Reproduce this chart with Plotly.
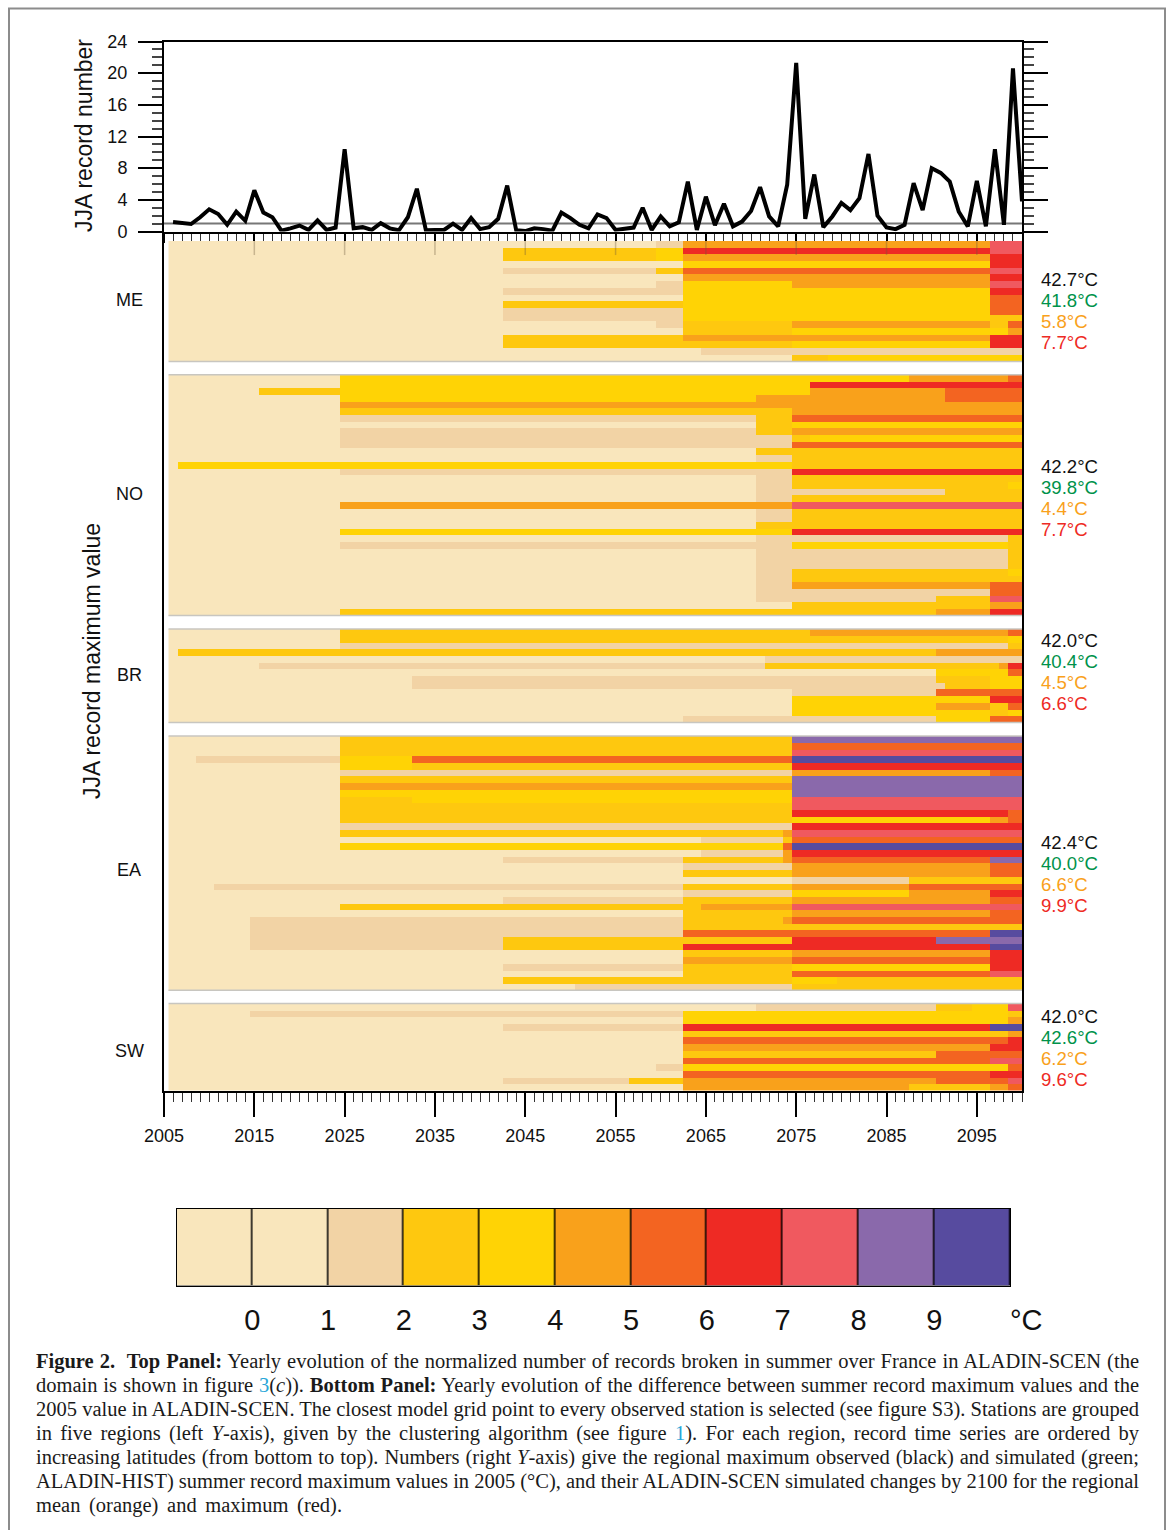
import plotly.graph_objects as go

W, H = 1171, 1530

# ---------- top panel ----------
YEARS = list(range(2006, 2101))
RECORD_NUMBER = [
    1.2, 1.05, 0.95, 1.8, 2.8, 2.2, 0.85, 2.5, 1.35, 5.2,
    2.4, 1.8, 0.1, 0.4, 0.75, 0.2, 1.4, 0.2, 0.5, 10.4,
    0.4, 0.55, 0.2, 1.05, 0.4, 0.15, 1.8, 5.4, 0.15, 0.2,
    0.2, 1.0, 0.2, 1.7, 0.3, 0.55, 1.6, 5.8, 0.15, 0.05,
    0.4, 0.3, 0.1, 2.4, 1.7, 0.85, 0.4, 2.15, 1.7, 0.2,
    0.4, 0.5, 3.0, 0.2, 1.9, 0.65, 1.15, 6.3, 0.2, 4.4,
    0.8, 3.5, 0.65, 1.25, 2.6, 5.6, 1.9, 0.65, 5.9, 21.3,
    1.6, 7.2, 0.55, 1.9, 3.6, 2.7, 4.2, 9.8, 2.0, 0.5,
    0.3, 0.85, 6.1, 2.7, 8.0, 7.4, 6.3, 2.5, 0.65, 6.4,
    0.65, 10.4, 0.85, 20.6, 3.8,
]
REFERENCE_LEVEL = [1, 1]
Y_TICKS = [0, 4, 8, 12, 16, 20, 24]

# ---------- colour classes ----------
COLORS = ["#F9E6BC", "#F9E6BC", "#F2D3A5", "#FEC80F", "#FFD305", "#F9A11B",
          "#F36421", "#EE2A24", "#F0595F", "#8A69AB", "#574B9F"]
LEGEND_LEVELS = list(range(11))
LEGEND_TICKS = list(range(10))

# ---------- rows, top to bottom: (first year, colour class) runs ----------
ME_ROWS = [
    [(2006, 1), (2060, 2), (2063, 5), (2097, 8)],
    [(2006, 1), (2043, 3), (2060, 4), (2063, 7), (2097, 8)],
    [(2006, 1), (2043, 3), (2060, 4), (2063, 5), (2097, 7)],
    [(2006, 1), (2063, 4), (2097, 7)],
    [(2006, 1), (2043, 2), (2060, 3), (2063, 6), (2097, 8)],
    [(2006, 1), (2063, 5), (2097, 7)],
    [(2006, 1), (2060, 2), (2063, 4), (2075, 5), (2097, 8)],
    [(2006, 1), (2043, 2), (2063, 4), (2097, 7)],
    [(2006, 1), (2063, 4), (2097, 6)],
    [(2006, 1), (2043, 3), (2063, 4), (2097, 6)],
    [(2006, 1), (2043, 2), (2063, 4), (2097, 6)],
    [(2006, 1), (2043, 2), (2063, 4), (2097, 3)],
    [(2006, 1), (2060, 2), (2063, 3), (2075, 5), (2097, 3), (2099, 6)],
    [(2006, 1), (2063, 3), (2075, 4), (2099, 5)],
    [(2006, 1), (2043, 3), (2063, 5), (2097, 7)],
    [(2006, 1), (2043, 3), (2075, 4), (2097, 7)],
    [(2006, 1), (2065, 2)],
    [(2006, 1), (2075, 3), (2079, 4)],
]
NO_ROWS = [
    [(2006, 1), (2025, 4), (2088, 5), (2099, 6)],
    [(2006, 1), (2025, 4), (2077, 7)],
    [(2006, 1), (2016, 3), (2025, 4), (2077, 5), (2092, 6)],
    [(2006, 1), (2025, 4), (2071, 5), (2092, 6)],
    [(2006, 1), (2025, 5)],
    [(2006, 1), (2025, 3), (2075, 5)],
    [(2006, 1), (2025, 2), (2071, 3), (2075, 6)],
    [(2006, 1), (2071, 3), (2075, 4)],
    [(2006, 1), (2025, 2), (2071, 3), (2075, 5)],
    [(2006, 1), (2025, 2), (2075, 3), (2077, 4)],
    [(2006, 1), (2025, 2), (2075, 6)],
    [(2006, 1), (2071, 3)],
    [(2006, 1), (2071, 2), (2075, 3)],
    [(2006, 1), (2007, 4), (2075, 3)],
    [(2006, 1), (2025, 2), (2075, 7)],
    [(2006, 1), (2071, 2), (2075, 3)],
    [(2006, 1), (2071, 2), (2075, 3), (2099, 4)],
    [(2006, 1), (2071, 2), (2092, 3)],
    [(2006, 1), (2071, 2), (2075, 3)],
    [(2006, 1), (2025, 5), (2075, 8)],
    [(2006, 1), (2071, 2), (2075, 3)],
    [(2006, 1), (2071, 2), (2075, 3)],
    [(2006, 1), (2071, 3)],
    [(2006, 1), (2025, 4), (2075, 7)],
    [(2006, 1), (2071, 2), (2099, 3)],
    [(2006, 1), (2025, 2), (2075, 4), (2099, 3)],
    [(2006, 1), (2071, 2), (2099, 3)],
    [(2006, 1), (2071, 2), (2099, 3)],
    [(2006, 1), (2071, 2), (2099, 3)],
    [(2006, 1), (2071, 2), (2075, 3), (2099, 4)],
    [(2006, 1), (2071, 2), (2075, 3)],
    [(2006, 1), (2071, 2), (2075, 5), (2097, 6)],
    [(2006, 1), (2071, 2), (2097, 6)],
    [(2006, 1), (2071, 2), (2091, 3), (2097, 8)],
    [(2006, 1), (2075, 3), (2097, 5)],
    [(2006, 1), (2025, 3), (2091, 5), (2097, 7)],
]
BR_ROWS = [
    [(2006, 1), (2025, 3), (2077, 5), (2099, 6)],
    [(2006, 1), (2025, 3), (2099, 4)],
    [(2006, 1), (2025, 2), (2099, 3)],
    [(2006, 1), (2007, 3), (2091, 5)],
    [(2006, 1), (2072, 2)],
    [(2006, 1), (2016, 2), (2072, 3), (2098, 5), (2099, 7)],
    [(2006, 1), (2091, 4), (2099, 6)],
    [(2006, 1), (2033, 2), (2091, 3), (2097, 4)],
    [(2006, 1), (2033, 2), (2092, 3), (2097, 4)],
    [(2006, 1), (2075, 2), (2091, 6)],
    [(2006, 1), (2075, 4), (2097, 7)],
    [(2006, 1), (2075, 4), (2091, 5), (2097, 3), (2099, 6)],
    [(2006, 1), (2075, 4), (2097, 3), (2099, 4)],
    [(2006, 1), (2063, 2), (2091, 4), (2097, 6)],
]
EA_ROWS = [
    [(2006, 1), (2025, 3), (2075, 9)],
    [(2006, 1), (2025, 3), (2075, 6)],
    [(2006, 1), (2025, 3), (2075, 8)],
    [(2006, 1), (2009, 2), (2025, 4), (2033, 6), (2075, 10)],
    [(2006, 1), (2025, 4), (2033, 3), (2075, 7)],
    [(2006, 1), (2025, 2), (2075, 5), (2097, 6)],
    [(2006, 1), (2025, 3), (2075, 9)],
    [(2006, 1), (2025, 5), (2075, 9)],
    [(2006, 1), (2025, 4), (2075, 9)],
    [(2006, 1), (2025, 3), (2033, 4), (2075, 8)],
    [(2006, 1), (2025, 3), (2075, 8)],
    [(2006, 1), (2025, 3), (2075, 7), (2099, 6)],
    [(2006, 1), (2025, 3), (2075, 4), (2097, 5), (2099, 6)],
    [(2006, 1), (2025, 2), (2075, 7)],
    [(2006, 1), (2025, 3), (2074, 5), (2075, 8)],
    [(2006, 1), (2065, 2), (2074, 3), (2075, 6)],
    [(2006, 1), (2025, 4), (2074, 6), (2075, 10)],
    [(2006, 1), (2065, 2), (2074, 5), (2075, 7)],
    [(2006, 1), (2043, 2), (2063, 3), (2074, 5), (2075, 6), (2097, 9)],
    [(2006, 1), (2063, 2), (2075, 5), (2097, 6)],
    [(2006, 1), (2063, 3), (2075, 5), (2097, 6)],
    [(2006, 1), (2075, 2), (2088, 3)],
    [(2006, 1), (2011, 2), (2063, 3), (2075, 5), (2088, 6)],
    [(2006, 1), (2063, 2), (2075, 4), (2088, 5), (2097, 7)],
    [(2006, 1), (2043, 2), (2063, 3), (2075, 5), (2097, 6)],
    [(2006, 1), (2025, 3), (2065, 5), (2075, 8)],
    [(2006, 1), (2063, 3), (2075, 5), (2097, 6)],
    [(2006, 1), (2015, 2), (2063, 3), (2074, 5), (2075, 6)],
    [(2006, 1), (2015, 2), (2063, 3)],
    [(2006, 1), (2015, 2), (2063, 6), (2097, 10)],
    [(2006, 1), (2015, 2), (2043, 3), (2075, 7), (2091, 9)],
    [(2006, 1), (2015, 2), (2043, 3), (2063, 7), (2097, 10)],
    [(2006, 1), (2063, 3), (2075, 5), (2097, 7)],
    [(2006, 1), (2063, 5), (2075, 6), (2097, 7)],
    [(2006, 1), (2043, 2), (2063, 3), (2075, 4), (2097, 7)],
    [(2006, 1), (2063, 3), (2075, 6), (2097, 8)],
    [(2006, 1), (2043, 3), (2075, 4), (2080, 3)],
    [(2006, 1), (2051, 2), (2075, 3)],
]
SW_ROWS = [
    [(2006, 1), (2071, 2), (2091, 3), (2095, 4), (2099, 8)],
    [(2006, 1), (2015, 2), (2063, 4), (2099, 3)],
    [(2006, 1), (2063, 4), (2099, 5)],
    [(2006, 1), (2043, 2), (2063, 7), (2097, 10)],
    [(2006, 1), (2063, 3), (2099, 5)],
    [(2006, 1), (2063, 6), (2099, 7)],
    [(2006, 1), (2063, 5), (2097, 7)],
    [(2006, 1), (2063, 3), (2091, 6)],
    [(2006, 1), (2063, 6), (2097, 8)],
    [(2006, 1), (2060, 2), (2063, 4), (2099, 6)],
    [(2006, 1), (2063, 6), (2097, 7)],
    [(2006, 1), (2043, 2), (2057, 3), (2063, 5), (2091, 6), (2099, 8)],
    [(2006, 1), (2063, 5), (2088, 3), (2097, 5), (2099, 6)],
]

REGION_NAMES = ["ME", "NO", "BR", "EA", "SW"]
REGION_ROWS = [ME_ROWS, NO_ROWS, BR_ROWS, EA_ROWS, SW_ROWS]
GAP_ROWS = 2

OBSERVED = ["42.7", "42.2", "42.0", "42.4", "42.0"]
SIMULATED = ["41.8", "39.8", "40.4", "40.0", "42.6"]
CHANGE_MEAN = ["5.8", "4.4", "4.5", "6.6", "6.2"]
CHANGE_MAX = ["7.7", "7.7", "6.6", "9.9", "9.6"]
VALUE_COLORS = ["#111111", "#00924A", "#F9A11B", "#EE2A24"]

# ---------- layout constants (pixels) ----------
PX_LEFT, PX_RIGHT = 164, 1022
TOP_Y0, TOP_Y1 = 41.5, 231.5
MAIN_ROWS_TOP, MAIN_Y1 = 241, 1090.5
LEG_X0, LEG_X1, LEG_Y0, LEG_Y1 = 176.5, 1010, 1208.5, 1285.5


def fx(p):
    return p / W


def fy(p):
    return 1 - p / H


def expand(runs):
    out = []
    for y in YEARS:
        val = None
        for start, level in runs:
            if y >= start:
                val = level
        out.append(val)
    return out


z_rows = []
sep_x, sep_y = [], []
for i, rows in enumerate(REGION_ROWS):
    start = len(z_rows)
    for r in rows:
        z_rows.append(expand(r))
    end = len(z_rows)
    for edge in (start - 0.5, end - 0.5):
        if edge > 0 and edge < 126:
            sep_x += [2005.5, 2100, None]
            sep_y += [edge, edge, None]
    if i < len(REGION_ROWS) - 1:
        for _ in range(GAP_ROWS):
            z_rows.append([None] * len(YEARS))
n_rows = len(z_rows)
row_h = (MAIN_Y1 - MAIN_ROWS_TOP) / n_rows
extra_rows = (MAIN_ROWS_TOP - TOP_Y1) / row_h

steps = len(COLORS)
colorscale = []
for i, c in enumerate(COLORS):
    colorscale += [[i / steps, c], [(i + 1) / steps, c]]

fig = go.Figure()
fig.add_trace(go.Scatter(x=[YEARS[0] - 1, YEARS[-1]], y=REFERENCE_LEVEL, mode="lines",
                         line=dict(color="#777777", width=2), xaxis="x", yaxis="y",
                         showlegend=False, hoverinfo="skip"))
fig.add_trace(go.Scatter(x=YEARS, y=RECORD_NUMBER, mode="lines",
                         line=dict(color="black", width=4), xaxis="x", yaxis="y",
                         showlegend=False))
fig.add_trace(go.Heatmap(x=YEARS, y=list(range(n_rows)), z=z_rows, colorscale=colorscale,
                         zmin=-0.5, zmax=10.5, showscale=False, xaxis="x2", yaxis="y2",
                         hoverinfo="skip"))
fig.add_trace(go.Scatter(x=sep_x, y=sep_y, mode="lines", line=dict(color="#C8C6C0", width=1.5),
                         xaxis="x2", yaxis="y2", showlegend=False, hoverinfo="skip"))
faint_x, faint_y = [], []
for y in range(2015, 2100, 10):
    faint_x += [y, y, None]
    faint_y += [-0.5, 1.6, None]
fig.add_trace(go.Scatter(x=faint_x, y=faint_y, mode="lines",
                         line=dict(color="rgba(110,90,60,0.35)", width=1.5),
                         xaxis="x2", yaxis="y2", showlegend=False, hoverinfo="skip"))
fig.add_trace(go.Heatmap(x=[v - 0.5 for v in LEGEND_LEVELS], y=[0], z=[LEGEND_LEVELS],
                         colorscale=colorscale, zmin=-0.5, zmax=10.5, showscale=False,
                         xgap=1.5, xaxis="x3", yaxis="y3", hoverinfo="skip"))

FONT = "Liberation Sans"
ann = []
label_y = [300, 494, 675, 870, 1051]
for name, y in zip(REGION_NAMES, label_y):
    ann.append(dict(text=name, xref="paper", yref="paper", x=fx(129), y=fy(y), showarrow=False,
                    xanchor="center", yanchor="middle", font=dict(family=FONT, size=18, color="#111")))
first_y = [279.5, 466.5, 640.5, 842.5, 1016.5]
for k in range(5):
    vals = [OBSERVED[k], SIMULATED[k], CHANGE_MEAN[k], CHANGE_MAX[k]]
    for j, (v, c) in enumerate(zip(vals, VALUE_COLORS)):
        ann.append(dict(text=f"{v}°C", xref="paper", yref="paper", x=fx(1039),
                        y=fy(first_y[k] + 21 * j), showarrow=False, xanchor="left",
                        yanchor="middle", font=dict(family=FONT, size=18.6, color=c)))
ann.append(dict(text="JJA record number", xref="paper", yref="paper", x=fx(84), y=fy(136),
                showarrow=False, textangle=-90, xanchor="center", yanchor="middle",
                font=dict(family=FONT, size=23, color="#111")))
ann.append(dict(text="JJA record maximum value", xref="paper", yref="paper", x=fx(92), y=fy(661),
                showarrow=False, textangle=-90, xanchor="center", yanchor="middle",
                font=dict(family=FONT, size=23, color="#111")))
ann.append(dict(text="°C", xref="paper", yref="paper", x=fx(1026), y=fy(1320), showarrow=False,
                xanchor="center", yanchor="middle", font=dict(family=FONT, size=29, color="#111")))

BLUE = "#2AA6D8"
CAPTION = [
    "<b>Figure 2.  Top Panel:</b> Yearly evolution of the normalized number of records broken in summer over France in ALADIN-SCEN (the",
    f"domain is shown in figure <span style='color:{BLUE}'>3</span>(<i>c</i>)). <b>Bottom Panel:</b> Yearly evolution of the difference between summer record maximum values and the",
    "2005 value in ALADIN-SCEN. The closest model grid point to every observed station is selected (see figure S3). Stations are grouped",
    f"in five regions (left <i>Y</i>-axis), given by the clustering algorithm (see figure <span style='color:{BLUE}'>1</span>). For each region, record time series are ordered by",
    "increasing latitudes (from bottom to top). Numbers (right <i>Y</i>-axis) give the regional maximum observed (black) and simulated (green;",
    "ALADIN-HIST) summer record maximum values in 2005 (°C), and their ALADIN-SCEN simulated changes by 2100 for the regional",
    "mean (orange) and maximum (red).",
]
for i, line in enumerate(CAPTION):
    ann.append(dict(text=line, xref="paper", yref="paper", x=fx(34), y=fy(1361.5 + 24 * i),
                    showarrow=False, xanchor="left", yanchor="middle", align="left",
                    font=dict(family="Liberation Serif", size=20.5, color="#1a1a1a")))

axis_common = dict(showgrid=False, zeroline=False, automargin=False)
fig.update_layout(
    template="none",
    width=W, height=H, margin=dict(l=0, r=0, t=0, b=0, pad=0), autosize=False,
    paper_bgcolor="white", plot_bgcolor="white", showlegend=False,
    font=dict(family=FONT, color="#111"),
    xaxis=dict(domain=[fx(PX_LEFT), fx(PX_RIGHT)], range=[2005, 2100], anchor="y", tick0=2005, dtick=10,
               ticks="outside", ticklen=9, tickwidth=2, tickcolor="black", showticklabels=False,
               showline=True, linecolor="black", linewidth=2, mirror=True,
               minor=dict(dtick=1, tick0=2005, ticks="outside", ticklen=9, tickwidth=1, tickcolor="#333"),
               **axis_common),
    yaxis=dict(domain=[fy(TOP_Y1), fy(TOP_Y0)], range=[0, 24], anchor="x", tickvals=Y_TICKS,
               ticks="outside", ticklen=24, tickwidth=2, tickcolor="black", ticklabelstandoff=7,
               showline=True, linecolor="black", linewidth=2, mirror="ticks",
               tickfont=dict(size=18, family=FONT, color="#111"),
               minor=dict(dtick=1, tick0=0, ticks="outside", ticklen=10, tickwidth=1.5, tickcolor="#444"),
               **axis_common),
    xaxis2=dict(domain=[fx(PX_LEFT), fx(PX_RIGHT)], range=[2005, 2100], anchor="y2", tick0=2005, dtick=10,
                ticks="outside", ticklen=24, tickwidth=2, tickcolor="black", ticklabelstandoff=4,
                showline=True, linecolor="black", linewidth=2,
                tickfont=dict(size=18, family=FONT, color="#111"),
                minor=dict(dtick=1, tick0=2005, ticks="outside", ticklen=9, tickwidth=1, tickcolor="#333"),
                **axis_common),
    yaxis2=dict(domain=[fy(MAIN_Y1), fy(TOP_Y1)], range=[n_rows - 0.5, -0.5 - extra_rows], anchor="x2",
                showticklabels=False, ticks="", showline=True, linecolor="black", linewidth=2,
                mirror=True, **axis_common),
    xaxis3=dict(domain=[fx(LEG_X0), fx(LEG_X1)], range=[-1, 10], anchor="y3", tickvals=LEGEND_TICKS,
                ticks="outside", ticklen=9, tickcolor="rgba(0,0,0,0)",
                tickfont=dict(size=29, family=FONT, color="#111"),
                showline=True, linecolor="black", linewidth=1, mirror=True, **axis_common),
    yaxis3=dict(domain=[fy(LEG_Y1), fy(LEG_Y0)], range=[-0.5, 0.5], anchor="x3", showticklabels=False,
                ticks="", showline=True, linecolor="black", linewidth=1, mirror=True, **axis_common),
    annotations=ann,
    shapes=[
        dict(type="rect", xref="paper", yref="paper", x0=fx(9), x1=fx(1165), y0=-0.05, y1=fy(8.5),
             line=dict(color="#8C8C8C", width=2), fillcolor="rgba(0,0,0,0)", layer="above"),
        dict(type="rect", xref="x3 domain", yref="y3 domain", x0=0, x1=1, y0=0, y1=1,
             fillcolor="black", line=dict(width=0), layer="below"),
    ],
)
post = """
document.body.style.margin='0';
document.documentElement.style.overflow='hidden';
function fit(){
  var T=1103;
  document.querySelectorAll('text.annotation-text').forEach(function(t){
    var s=t.textContent||'';
    if(s.indexOf('mean (orange)')===0){t.style.wordSpacing='3.5px';return;}
    if(s.length<90) return;
    t.style.wordSpacing='0px';
    var w=t.getComputedTextLength();
    var n=(s.match(/ /g)||[]).length;
    if(n>0){t.style.wordSpacing=((T-w)/n)+'px';}
  });
}
setTimeout(fit,50);setTimeout(fit,400);
"""
fig.write_html("out.html", post_script=post, config={"displayModeBar": False})
